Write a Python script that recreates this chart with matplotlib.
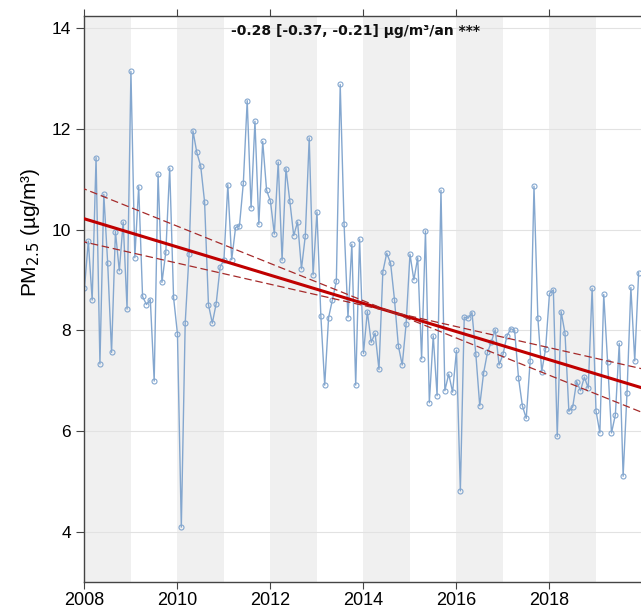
import matplotlib.pyplot as plt
import numpy as np

# monthly mean PM2.5, Jan 2008 -> Dec 2019
pm25 = [
    8.83, 9.77, 8.60, 11.43, 7.33, 10.70, 9.33, 7.56, 9.96, 9.18, 10.15, 8.42,   # 2008
    13.14, 9.44, 10.85, 8.67, 8.51, 8.61, 6.99, 11.10, 8.95, 9.55, 11.22, 8.65,  # 2009
    7.93, 4.09, 8.14, 9.51, 11.96, 11.53, 11.26, 10.55, 8.51, 8.14, 8.53, 9.25,  # 2010
    9.40, 10.89, 9.40, 10.04, 10.07, 10.92, 12.56, 10.43, 12.15, 10.10, 11.75, 10.78,  # 2011
    10.56, 9.91, 11.34, 9.39, 11.21, 10.56, 9.88, 10.15, 9.22, 9.88, 11.82, 9.10,  # 2012
    10.35, 8.29, 6.91, 8.25, 8.61, 8.97, 12.88, 10.10, 8.25, 9.71, 6.91, 9.81,   # 2013
    7.54, 8.37, 7.76, 7.94, 7.22, 9.16, 9.53, 9.33, 8.61, 7.69, 7.31, 8.12,      # 2014
    9.51, 9.00, 9.44, 7.43, 9.97, 6.56, 7.89, 6.70, 10.78, 6.80, 7.13, 6.77,     # 2015
    7.60, 4.81, 8.26, 8.24, 8.35, 7.52, 6.50, 7.15, 7.56, 7.77, 8.01, 7.31,      # 2016
    7.52, 7.88, 8.03, 8.00, 7.06, 6.50, 6.25, 7.38, 10.86, 8.24, 7.18, 7.63,     # 2017
    8.73, 8.80, 5.89, 8.37, 7.94, 6.39, 6.48, 6.98, 6.80, 7.07, 6.85, 8.83,      # 2018
    6.40, 5.96, 8.71, 7.36, 5.96, 6.32, 7.74, 5.10, 6.75, 8.85, 7.39, 9.14,      # 2019
]
start_year = 2008

# trend (slope per year) and its confidence interval, lines pivot on a common point
slope = -0.28
slope_low = -0.37
slope_high = -0.21
pivot_year = 2014.58
pivot_value = 8.37
trend_label = "-0.28 [-0.37, -0.21] µg/m³/an ***"

year_ticks = [2008, 2010, 2012, 2014, 2016, 2018]
y_ticks = [4, 6, 8, 10, 12, 14]

t = start_year + np.arange(len(pm25)) / 12.0

fig = plt.figure(figsize=(6.41, 6.09), dpi=100)
# panel runs past the right edge of the picture (cropped like the original)
ax = fig.add_axes([83.5 / 641, 27 / 609, 559 / 641, 566 / 609])

# alternating year bands
for y in range(2008, 2020, 2):
    ax.axvspan(y, y + 1, color='#f0f0f0', lw=0, zorder=0)
for v in y_ticks:
    ax.axhline(v, color='#e2e2e2', lw=0.8, zorder=0.5)

ax.plot(t, pm25, color='#84a7cf', lw=1.0, marker='o', ms=3.6, mfc='none',
        mec='#84a7cf', mew=0.8, zorder=2)

xx = np.array([2007.9, 2020.1])
ax.plot(xx, pivot_value + slope * (xx - pivot_year), color='#c00000', lw=2.2, zorder=3)
for s in (slope_low, slope_high):
    ax.plot(xx, pivot_value + s * (xx - pivot_year), color='#a52a2a', lw=0.9,
            ls=(0, (6, 3)), zorder=3)

ax.text(2013.83, 13.95, trend_label, ha='center', va='center', fontsize=10,
        fontweight='bold', family='Liberation Sans Narrow', color='#111111')

ax.set_xlim(2007.98, 2020.0)
ax.set_ylim(3.0, 14.24)
ax.set_xticks(year_ticks)
ax.set_yticks(y_ticks)
ax.set_xticklabels([str(y) for y in year_ticks], fontsize=13, family='Liberation Sans')
ax.set_yticklabels([str(v) for v in y_ticks], fontsize=12.5, family='Liberation Sans')
ax.tick_params(axis='x', direction='out', length=5, color='#444444', top=True, pad=2)
ax.tick_params(axis='y', direction='out', length=6, color='#444444', pad=3)
for side in ('left', 'bottom', 'top'):
    ax.spines[side].set_color('#444444')
    ax.spines[side].set_linewidth(1.0)
ax.spines['right'].set_visible(False)

fig.text(31 / 641, 1 - 232 / 609, r'PM$_{2.5}$ (µg/m³)', rotation=90, ha='center',
         va='center', fontsize=15, family='Liberation Sans')

fig.savefig('out.png', dpi=100)
